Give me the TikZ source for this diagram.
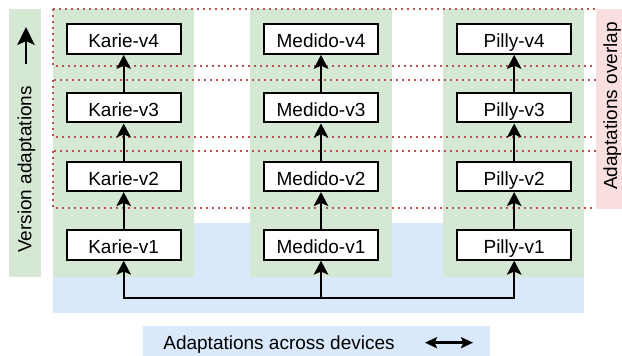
\documentclass[tikz,border=0pt]{standalone}
\usepackage{fontspec}
\setmainfont{Liberation Sans}
\usetikzlibrary{positioning, arrows.meta}
\definecolor{devgreen}{HTML}{D5E8D4}
\definecolor{devblue}{HTML}{DAE8FC}
\definecolor{overpink}{HTML}{F9E0DE}
\definecolor{overred}{HTML}{B85450}
\tikzset{
>={Stealth[length=7pt,width=7.3pt,inset=1.6pt]}, % arrow heads of the version links
node distance=18.6pt, % gap between two version boxes
version/.style={draw, line width=1pt, fill=white, minimum width=57pt, minimum height=14.7pt,
  inner sep=0pt, text height=8.8pt, text depth=0pt}, % one version box
band/.style={draw=overred, line width=1pt, dotted}, % one overlap band
link/.style={->, line width=0.9pt}, % version to version
every node/.style={font=\fontsize{9.5}{11}\selectfont},
}

\begin{document}
\begin{tikzpicture}[x=0.5pt, y=-0.5pt]
    \useasboundingbox (0,0) rectangle (622,356);
    % backgrounds
    \fill[devblue] (53,223.3) rectangle (584,313.3);
    \fill[devblue] (142.7,325.7) rectangle (490.3,356);
    \fill[devgreen] (9,9) rectangle (41,277.3);
    \fill[devgreen] (53,9) rectangle (194,277.3);
    \fill[devgreen] (250,9) rectangle (391.7,277.3);
    \fill[devgreen] (442.7,9) rectangle (583.7,277.3);
    % overlap bands
    \draw[band] (53.3,9.3) rectangle (597,66.3);
    \draw[band] (53.3,80) rectangle (597,137.5);
    \draw[band] (53.3,150.8) rectangle (597,208.5);
    \fill[overpink] (595.7,8.7) rectangle (622,209);

    \node[version] (k1) at (123.7,245) {Karie-v1};
    \node[version, above=of k1] (k2) {Karie-v2};
    \node[version, above=of k2] (k3) {Karie-v3};
    \node[version, above=of k3] (k4) {Karie-v4};
    \node[version] (m1) at (321,245) {Medido-v1};
    \node[version, above=of m1] (m2) {Medido-v2};
    \node[version, above=of m2] (m3) {Medido-v3};
    \node[version, above=of m3] (m4) {Medido-v4};
    \node[version] (p1) at (514.2,245) {Pilly-v1};
    \node[version, above=of p1] (p2) {Pilly-v2};
    \node[version, above=of p2] (p3) {Pilly-v3};
    \node[version, above=of p3] (p4) {Pilly-v4};

    \draw[link] (k1) edge (k2) (k2) edge (k3) (k3) edge (k4)
                (m1) edge (m2) (m2) edge (m3) (m3) edge (m4)
                (p1) edge (p2) (p2) edge (p3) (p3) edge (p4);

    % across devices
    \coordinate (hub) at (321,298.3);
    \draw[link] (hub) -| (k1);
    \draw[link] (hub) -- (m1);
    \draw[link] (hub) -| (p1);

    % labels
    \node[rotate=90, anchor=base] (vlabel) at (31.5,169.5) {Version adaptations};
    \coordinate (vtail) at (26,64);
    \coordinate (vhead) at (26,27);
    \draw[->, line width=1pt, >={Stealth[length=9pt,width=8.7pt,inset=2pt]}] (vtail) -- (vhead);
    \node[rotate=90, anchor=base] (olabel) at (617,106) {Adaptations overlap};
    \node[anchor=base] (dlabel) at (279,349.5) {Adaptations across devices};
    \coordinate (dleft) at (425,342.7);
    \coordinate (dright) at (473,342.7);
    \draw[<->, line width=1.2pt, >={Stealth[length=6pt,width=5.5pt,inset=1.2pt]}] (dleft) -- (dright);
\end{tikzpicture}
\end{document}
